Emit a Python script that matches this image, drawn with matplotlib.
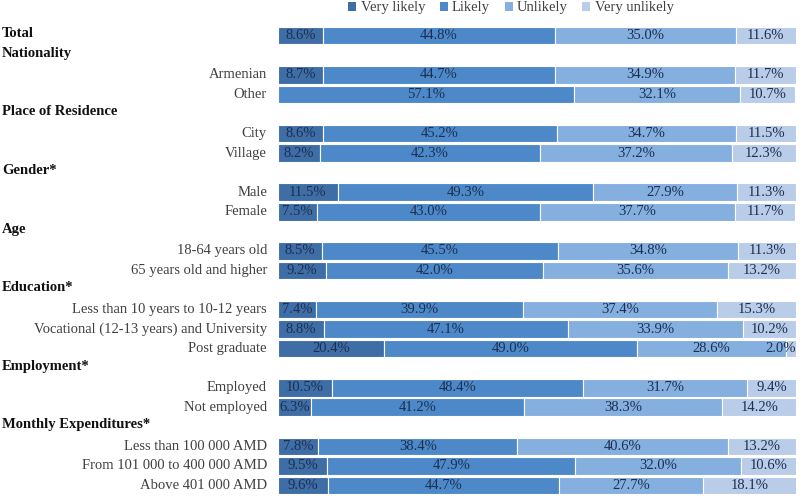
import numpy as np
import matplotlib
matplotlib.use("Agg")
import matplotlib.pyplot as plt
from matplotlib.patches import Patch
from matplotlib.transforms import blended_transform_factory

nan = np.nan
row_labels = ["Total", "Nationality", "Armenian", "Other", "Place of Residence", "City", "Village",
              "Gender*", "Male", "Female", "Age", "18-64 years old", "65 years old and higher",
              "Education*", "Less than 10 years to 10-12 years", "Vocational (12-13 years) and University",
              "Post graduate", "Employment*", "Employed", "Not employed", "Monthly Expenditures*",
              "Less than 100 000 AMD", "From 101 000 to 400 000 AMD", "Above 401 000 AMD"]
bold_rows = ["Total", "Nationality", "Place of Residence", "Gender*", "Age", "Education*",
             "Employment*", "Monthly Expenditures*"]
series_names = ["Very likely", "Likely", "Unlikely", "Very unlikely"]
very_likely = [8.6, nan, 8.7, 0, nan, 8.6, 8.2, nan, 11.5, 7.5, nan, 8.5, 9.2, nan, 7.4, 8.8, 20.4,
               nan, 10.5, 6.3, nan, 7.8, 9.5, 9.6]
likely = [44.8, nan, 44.7, 57.1, nan, 45.2, 42.3, nan, 49.3, 43.0, nan, 45.5, 42.0, nan, 39.9, 47.1,
          49.0, nan, 48.4, 41.2, nan, 38.4, 47.9, 44.7]
unlikely = [35.0, nan, 34.9, 32.1, nan, 34.7, 37.2, nan, 27.9, 37.7, nan, 34.8, 35.6, nan, 37.4, 33.9,
            28.6, nan, 31.7, 38.3, nan, 40.6, 32.0, 27.7]
very_unlikely = [11.6, nan, 11.7, 10.7, nan, 11.5, 12.3, nan, 11.3, 11.7, nan, 11.3, 13.2, nan, 15.3,
                 10.2, 2.0, nan, 9.4, 14.2, nan, 13.2, 10.6, 18.1]
colors = ["#3f6ea6", "#4d89c9", "#84afdf", "#b9cce8"]

plt.rcParams['font.family'] = ['Liberation Serif', 'DejaVu Serif']

fig = plt.figure(figsize=(8, 4.97), dpi=100)
W, H = 800, 497
left_px, right_px = 278, 796
top_px, bot_px = 25.9, 495.3
ax = fig.add_axes([left_px / W, 1 - bot_px / H, (right_px - left_px) / W, (bot_px - top_px) / H])

n = len(row_labels)
y = np.arange(n)
series = [very_likely, likely, unlikely, very_unlikely]
cum = np.zeros(n)
for vals, col, name in zip(series, colors, series_names):
    v = np.array(vals, dtype=float)
    vv = np.nan_to_num(v)
    ax.barh(y, vv, left=cum, height=0.9, color=col, edgecolor="white", linewidth=0.8, label=name)
    for i in range(n):
        if not np.isnan(v[i]) and v[i] > 0:
            cx = cum[i] + v[i] / 2
            cx = min(cx, 97.0)
            ax.text(cx, y[i], f"{v[i]:.1f}%", ha="center", va="center", fontsize=10.5, color="#1c2f52")
    cum = cum + vv

ax.set_xlim(0, 100)
ax.set_ylim(n - 0.5, -0.5)
ax.axis("off")

tr = blended_transform_factory(fig.transFigure, ax.transData)
for i, lab in enumerate(row_labels):
    if lab in bold_rows:
        ax.text(2 / W, y[i] - 0.1, lab, transform=tr, ha="left", va="center", fontsize=10.5,
                fontweight="bold", color="#111111")
    else:
        ax.text(267 / W, y[i], lab, transform=tr, ha="right", va="center", fontsize=10.5,
                color="#404040")

handles = [Patch(facecolor=c, edgecolor="none") for c in colors]
fig.legend(handles, series_names, loc="center", bbox_to_anchor=(511 / W, 1 - 8 / H), ncol=4,
           frameon=False, fontsize=10.5, handlelength=0.55, handleheight=0.55, handletextpad=0.3,
           columnspacing=1.0, borderaxespad=0, labelcolor="#404040")

fig.savefig("out.png", dpi=100)
